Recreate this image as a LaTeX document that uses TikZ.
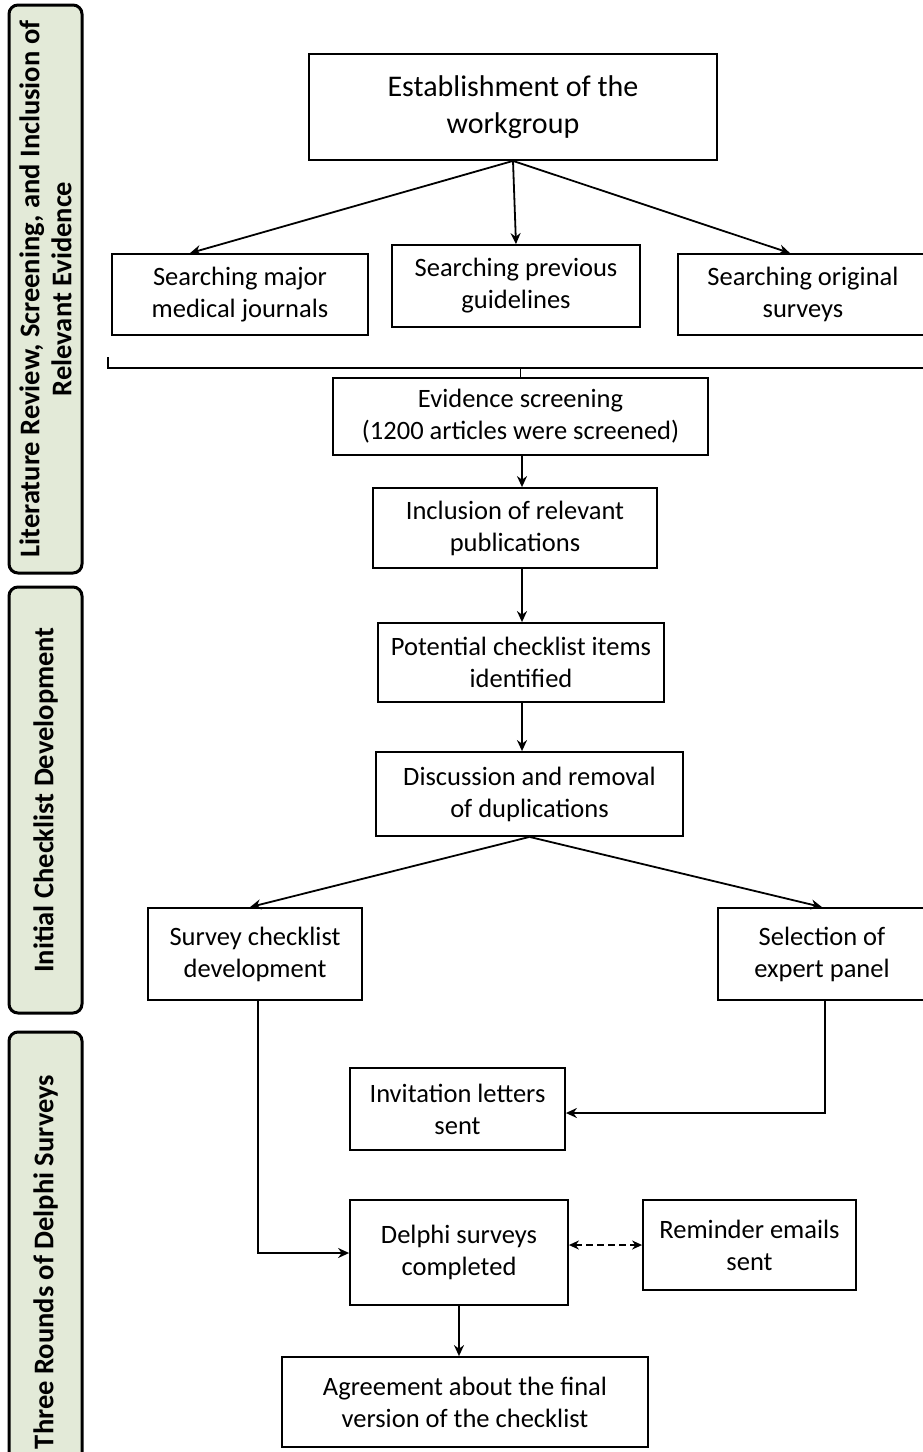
\documentclass[tikz,border=0pt]{standalone}
\usepackage{fontspec}
\setmainfont{Carlito}
\usetikzlibrary{arrows.meta}
\definecolor{sidefill}{HTML}{E3EAD8}
\begin{document}
\begin{tikzpicture}[x=1pt,y=-1pt,
  box/.style={draw, line width=1.8pt, align=center, inner sep=0pt,
    font=\fontsize{26.5}{32}\selectfont},
  side/.style={draw, line width=3pt, rounded corners=9pt, fill=sidefill,
    align=center, font=\bfseries\fontsize{28.5}{32}\selectfont},
  arr/.style={line width=1.8pt, -{Stealth[length=11pt,width=10pt]}},
  ln/.style={line width=1.8pt}]
\useasboundingbox (0,0) rectangle (923,1452);
% side bars
\node[side, minimum width=568pt, minimum height=73pt, rotate=90] (s1) at (45.5,289)
  {Literature Review, Screening, and Inclusion of\\Relevant Evidence};
\node[side, minimum width=426pt, minimum height=73pt, rotate=90] (s2) at (45.5,800)
  {Initial Checklist Development};
\node[side, minimum width=460pt, minimum height=73pt, rotate=90] (s3) at (45.5,1262)
  {Three Rounds of Delphi Surveys};
% boxes
\node[box, minimum width=408pt, minimum height=106pt, font=\fontsize{30}{37}\selectfont] (est) at (513,107)
  {Establishment of the\\workgroup};
\node[box, minimum width=256pt, minimum height=81pt] (sj) at (240,294.5)
  {Searching major\\medical journals};
\node[box, minimum width=248pt, minimum height=82pt] (sp) at (516,286)
  {Searching previous\\guidelines};
\node[box, minimum width=250pt, minimum height=81pt] (so) at (803,294.5)
  {Searching original\\surveys};
\node[box, minimum width=375pt, minimum height=77pt] (ev) at (520.5,416.5)
  {Evidence screening\\(1200 articles were screened)};
\node[box, minimum width=284pt, minimum height=80pt] (inc) at (515,528)
  {Inclusion of relevant\\publications};
\node[box, minimum width=286pt, minimum height=79pt] (pot) at (521,662.5)
  {Potential checklist items\\identified};
\node[box, minimum width=307pt, minimum height=84pt] (dis) at (529.5,794)
  {Discussion and removal\\of duplications};
\node[box, minimum width=214pt, minimum height=92pt] (sur) at (255,954)
  {Survey checklist\\development};
\node[box, minimum width=208pt, minimum height=92pt] (sel) at (822,954)
  {Selection of\\expert panel};
\node[box, minimum width=215pt, minimum height=82pt] (inv) at (457.5,1109)
  {Invitation letters\\sent};
\node[box, minimum width=218pt, minimum height=105pt] (del) at (459,1252.5)
  {Delphi surveys\\completed};
\node[box, minimum width=213pt, minimum height=90pt] (rem) at (749.5,1245)
  {Reminder emails\\sent};
\node[box, minimum width=366pt, minimum height=90pt] (agr) at (465,1402)
  {Agreement about the final\\version of the checklist};
% connectors
\draw[arr] (est.south) -- (sj.north -| 190,0);
\draw[arr] (est.south) -- (sp.north -| 516,0);
\draw[arr] (est.south) -- (so.north -| 790,0);
\coordinate (bl) at (108,357);
\coordinate (br) at (930,368);
\coordinate (bm) at (520.5,368);
\draw[ln] (bl) -- (108,368) -- (br);
\draw[ln] (bm) -- (ev.north);
\draw[arr] (ev.south -| 522,0) -- (inc.north -| 522,0);
\draw[arr] (inc.south -| 522,0) -- (pot.north -| 522,0);
\draw[arr] (pot.south -| 522,0) -- (dis.north -| 522,0);
\draw[arr] (dis.south) -- (sur.north -| 250,0);
\draw[arr] (dis.south) -- (sel.north -| 822,0);
\draw[arr] (sur.south -| 258,0) |- (del.west |- 0,1253);
\draw[arr] (sel.south -| 825,0) |- (inv.east |- 0,1113);
\draw[line width=1.8pt, dash pattern=on 7pt off 4pt, {Stealth[length=10pt,width=9pt]}-{Stealth[length=10pt,width=9pt]}] (del.east |- 0,1245) -- (rem.west |- 0,1245);
\draw[arr] (del.south) -- (agr.north -| del.south);
\end{tikzpicture}
\end{document}
